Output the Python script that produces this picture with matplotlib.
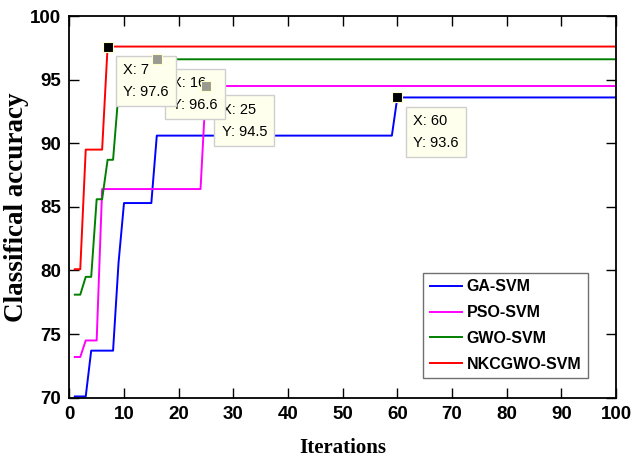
import numpy as np
import matplotlib
matplotlib.use('Agg')
import matplotlib.pyplot as plt

# 데이터 (단계형 수렴 곡선: 값과 반복 횟수)
labels = ['GA-SVM', 'PSO-SVM', 'GWO-SVM', 'NKCGWO-SVM']
colors = ['#0000FF', '#FF00FF', '#008000', '#FF0000']

ga_vals = [70.1, 73.7, 80.6, 85.3, 90.6, 93.6]
ga_runs = [3, 5, 1, 6, 44, 41]
pso_vals = [73.2, 74.5, 86.4, 94.5]
pso_runs = [2, 3, 19, 76]
gwo_vals = [78.1, 79.5, 85.6, 88.7, 94.0, 96.6]
gwo_runs = [2, 2, 2, 2, 7, 85]
nkc_vals = [80.1, 89.5, 97.6]
nkc_runs = [2, 4, 94]

# 데이터 팁 (series index, iteration, active)
tips = [(1, 25, False), (2, 16, False), (3, 7, True), (0, 60, True)]

iters = np.arange(1, 101)
series = [np.repeat(ga_vals, ga_runs), np.repeat(pso_vals, pso_runs),
          np.repeat(gwo_vals, gwo_runs), np.repeat(nkc_vals, nkc_runs)]

sans = ['Liberation Sans', 'DejaVu Sans']

fig = plt.figure(figsize=(6.32, 4.63), dpi=100)
ax = fig.add_axes([0.1097, 0.141, 0.865, 0.8244])

for y, c, lab in zip(series, colors, labels):
    ax.plot(iters, y, color=c, lw=1.4, label=lab, zorder=2)

# 데이터 팁 박스 + 마커
for k, (si, it, active) in enumerate(tips):
    yv = series[si][it - 1]
    ax.annotate(f'X: {it}\nY: {yv:g}', xy=(it, yv), xytext=(15.7, -16.6),
                textcoords='offset pixels', ha='left', va='top',
                fontsize=10.5, family='Liberation Sans', linespacing=1.72,
                bbox=dict(boxstyle='square,pad=0.5', fc='#FFFFEE', ec='#CFCFCF', lw=1),
                zorder=5 + k)
    ax.plot(it, yv, 's', ms=7, mfc='k' if active else '#9A9A92',
            mec='#FFFFC8', mew=0.8, zorder=20)

ax.set_xlim(0, 100)
ax.set_ylim(70, 100)
ax.set_xticks(np.arange(0, 101, 10))
ax.set_yticks(np.arange(70, 101, 5))
ax.tick_params(direction='in', top=True, right=True, length=7, width=1, pad=6)
for t in ax.get_xticklabels() + ax.get_yticklabels():
    t.set_family(sans)
    t.set_fontsize(13.5)
    t.set_fontweight('bold')
for s in ax.spines.values():
    s.set_linewidth(1.3)

ax.set_xlabel('Iterations', family='Liberation Serif', fontweight='bold', fontsize=15)
ax.set_ylabel('Classifical accuracy', family='Liberation Serif', fontweight='bold', fontsize=19.5)
ax.xaxis.set_label_coords(0.5, -0.105)
ax.yaxis.label.set_va('center')
ax.yaxis.set_label_coords(-0.096, 0.5)

leg = ax.legend(loc='lower right', bbox_to_anchor=(0.948, 0.051), borderaxespad=0,
                fancybox=False, framealpha=1, edgecolor='#707070',
                prop={'family': sans, 'weight': 'bold', 'size': 11.5},
                handlelength=2.06, handletextpad=0.25, labelspacing=0.68,
                borderpad=0.4)
leg.get_frame().set_linewidth(1)

fig.savefig('out.png', dpi=100)
